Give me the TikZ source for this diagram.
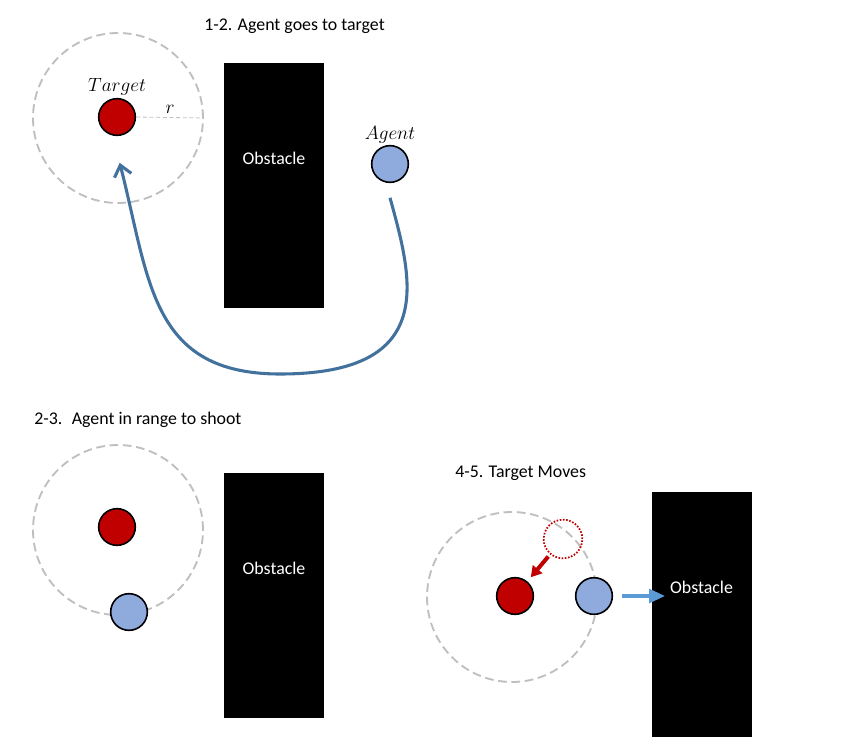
\documentclass[tikz,border=0pt]{standalone}
\usepackage{fontspec}
\setmainfont{Carlito}
\usetikzlibrary{arrows.meta, positioning}

\definecolor{targetred}{HTML}{C00000}
\definecolor{agentblue}{HTML}{8FAADC}
\definecolor{routeblue}{HTML}{41719C}
\definecolor{pushblue}{HTML}{5B9BD5}
\definecolor{zonegray}{HTML}{BFBFBF}

\begin{document}
\begin{tikzpicture}[
  x=0.75pt, y=0.75pt,
  heading/.style={anchor=west, inner sep=0pt, font=\fontsize{13.4}{16}\selectfont},
  zone/.style={circle, draw=zonegray, dash pattern=on 6.5pt off 3.5pt, line width=1.4pt, minimum size=127.5pt, inner sep=0pt},
  token/.style={circle, draw=black, line width=1.2pt, minimum size=27.5pt, inner sep=0pt},
  target/.style={token, fill=targetred},
  agent/.style={token, fill=agentblue},
  ghost/.style={circle, draw=targetred, line width=1.3pt, dash pattern=on 1.2pt off 1.2pt, minimum size=29pt, inner sep=0pt},
  wall/.style={fill=black, minimum width=75pt, minimum height=183.75pt, inner sep=0pt},
  walltext/.style={text=white, font=\fontsize{13.4}{16}\selectfont},
  tag/.style={inner sep=1pt, font=\fontsize{14.3}{17}\selectfont},
  rline/.style={draw=zonegray, line width=0.6pt, dash pattern=on 3pt off 2pt},
  route/.style={draw=routeblue, line width=2.3pt, -{Straight Barb[length=8pt, width=13pt]}},
  pull/.style={draw=targetred, line width=3pt, -{Triangle[length=8pt, width=9pt]}},
  push/.style={draw=pushblue, line width=3.5pt, -{Triangle[length=12pt, width=10pt]}}
]
\useasboundingbox (0,0) rectangle (841,-753);

% 1-2
\node[heading] (head1) at (204,-26) {1-2. Agent goes to target};
\node[zone]   (zone1)   at (118,-118) {};
\node[target] (target1) at (117,-117) {};
\node[agent]  (agent1)  at (390,-164) {};
\node[tag, above=1pt of target1] (targetname) {$Target$};
\node[tag, above=0pt of agent1]  (agentname)  {$Agent$};
\draw[rline] (target1.east) -- (zone1.east) node[midway, above=2pt, tag] (rlabel) {$r$};
\node[wall] (wall1) at (274,-185.5) {};
\node[walltext] (wall1text) at ([yshift=20.25pt]wall1.center) {Obstacle};
\coordinate (dip) at (280,-374);
\draw[route] ([yshift=-11pt]agent1.south) .. controls +(22,-80) and +(160,0) .. (dip)
  .. controls +(-130,0) and +(30,-117) .. ([xshift=2pt,yshift=-20pt]target1.south);

% 2-3
\node[heading] (head2) at (34,-420) {2-3.~ Agent in range to shoot};
\node[zone]   (zone2)   at (118,-530) {};
\node[target] (target2) at (117,-527) {};
\node[agent]  (agent2)  at (129,-612) {};
\node[wall] (wall2) at (274,-595.5) {};
\node[walltext] (wall2text) at ([yshift=20.25pt]wall2.center) {Obstacle};

% 4-5
\node[heading] (head3) at (455,-473) {4-5. Target Moves};
\node[zone]   (zone3)   at (512,-597) {};
\node[ghost]  (ghost3)  at (563,-539) {};
\node[target] (target3) at (515,-596) {};
\node[agent]  (agent3)  at (594,-596) {};
\node[wall] (wall3) at (701.5,-614.5) {};
\node[walltext] (wall3text) at ([yshift=20.25pt]wall3.center) {Obstacle};
\draw[pull, shorten <=2pt, shorten >=4pt] (ghost3) -- (target3);
\draw[push, shorten <=6.75pt, shorten >=-10.5pt] (agent3.east) -- (agent3 -| wall3.west);
\end{tikzpicture}
\end{document}
